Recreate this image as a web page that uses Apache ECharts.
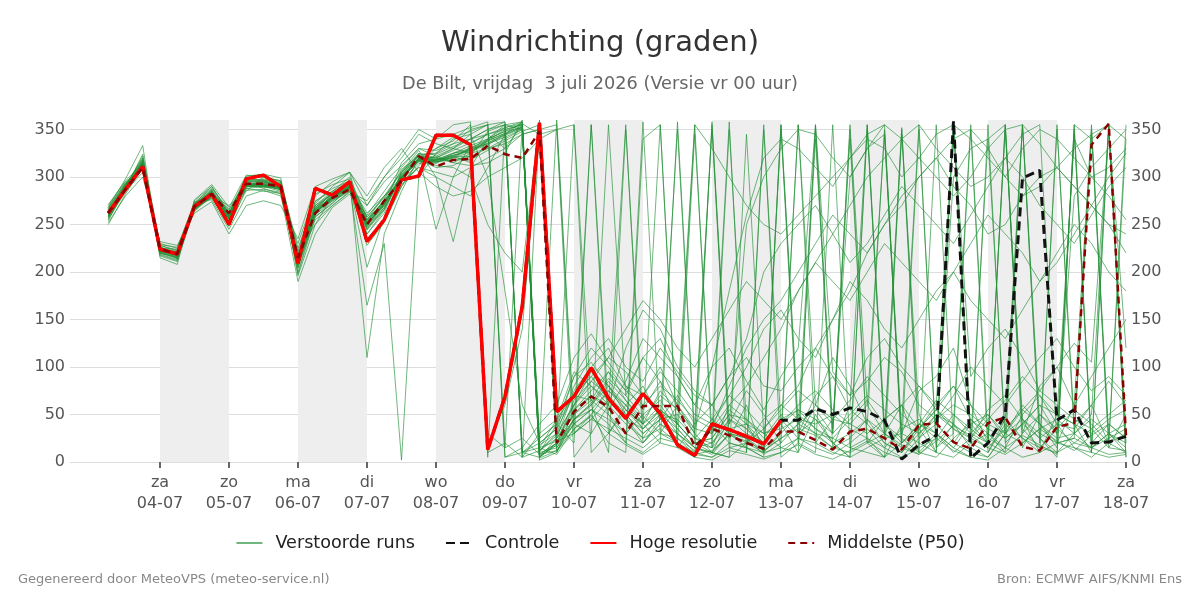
<!DOCTYPE html>
<html><head><meta charset="utf-8">
<script src="https://cdn.jsdelivr.net/npm/echarts@6/dist/echarts.min.js"></script>
<style>html,body{margin:0;padding:0;background:#fff}#chart{width:1200px;height:600px}</style>
</head><body><div id="chart"></div>
<script>
// hours relative to za 04-07 00:00
const hours = [-18,-12,-6,0,6,12,18,24,30,36,42,48,54,60,66,72,78,84,90,96,102,108,114,120,126,132,138,144,150,156,162,168,174,180,186,192,198,204,210,216,222,228,234,240,246,252,258,264,270,276,282,288,294,300,306,312,318,324,330,336];
const dayTicks = [0,24,48,72,96,120,144,168,192,216,240,264,288,312,336];
const dayNames = ['za','zo','ma','di','wo','do','vr','za','zo','ma','di','wo','do','vr','za'];
const dayDates = ['04-07','05-07','06-07','07-07','08-07','09-07','10-07','11-07','12-07','13-07','14-07','15-07','16-07','17-07','18-07'];
const shadedDays = [[0,24],[48,72],[96,120],[144,168],[192,216],[240,264],[288,312]];
const yTicks = [0,50,100,150,200,250,300,350];

const hogeResolutie = [262,287,311,224,219,269,282,250,298,302,290,209,288,281,295,232,255,297,301,344,344,334,13,69,164,357,53,69,99,67,46,72,51,18,7,40,34,27,19,44];
const controle = [262,287,311,224,219,269,282,250,298,302,290,209,288,281,295,232,255,297,301,344,344,334,13,69,164,357,53,69,99,67,46,72,51,18,7,40,34,27,19,44,44,56,50,57,53,44,3,18,28,359,4,20,50,299,307,44,55,20,21,27];
const middelste = [262,287,310,224,219,269,282,262,293,293,290,215,262,278,287,250,275,296,322,311,318,319,333,324,320,348,20,53,69,58,30,59,59,59,16,35,28,20,14,32,32,23,13,32,35,25,13,39,41,21,14,41,47,16,12,37,41,334,356,28];

const member01 = [258,292,318,220,215,275,290,262,298,296,290,205,270,282,295,240,265,305,325,320,330,325, 340,352,358,10,15,45,62,88,70,48,30,25,12,40,20,15,10, 30,355,20,45,40,60,30,352,25,50,40,15,5,30,60,40,20,25,350,30,15];
const member02 = [265,285,305,228,222,266,278,255,288,290,285,215,260,275,285,255,275,298,320,318,322,315, 20,60,140,350,25,75,100,120,80,55,85,40,20,15,60,45,25, 50,30,70,90,55,40,20,10,35,60,80,45,25,15,50,70,40,35,60,20,10];
const member03 = [255,288,322,226,214,272,284,265,295,294,292,198,258,272,290,165,230,2,300,325,335,340, 345,330,355,5,20,50,70,60,40,25,50,35,15,10,30,25,8, 20,40,55,30,340,20,45,60,35,10,355,30,50,25,40,60,30,345,20,40,25];
const member04 = [270,295,308,218,212,268,286,250,294,288,282,190,240,268,282,260,285,310,330,328,335,350, 355,358,5,12,30,60,85,110,95,70,100,60,35,30,55,40,20, 45,25,60,40,300,330,345,20,40,65,50,30,20,45,25,10,50,340,300,280,255];
const member05 = [260,289,315,224,220,264,280,270,285,300,295,225,275,285,300,255,280,295,310,305,300,310, 320,330,345,350,355,30,50,20,10,340,355,15,40,60,30,20,45, 60,80,120,150,180,220,250,280,300,320,340,350,330,300,280,290,310,330,345,355,340];
const member06 = [250,282,310,230,225,274,276,245,280,286,280,220,250,280,292,245,268,315,335,340,345,352, 358,5,10,25,40,20,355,30,60,80,45,350,20,10,5,345,30, 15,10,50,20,5,350,30,60,10,5,25,40,20,355,35,15,10,30,50,355,20];
const member07 = [262,291,320,222,218,271,283,260,296,298,294,210,272,290,305,235,255,290,318,312,310,300, 250,220,200,360,10,55,75,95,65,40,75,55,30,10,5,20,35, 60,45,30,25,15,10,5,20,40,30,10,25,55,70,45,30,20,15,10,5,8];
const member08 = [268,293,311,220,216,269,281,256,290,291,287,200,262,276,286,270,295,312,330,322,315,325, 330,340,350,15,8,35,50,75,60,35,55,30,10,35,80,120,150, 170,200,230,260,240,220,250,270,300,320,290,270,240,250,280,300,310,290,270,250,240];
const member09 = [259,288,313,225,219,270,282,258,292,295,289,215,266,279,290,248,270,302,316,316,320,330, 335,345,352,8,20,65,85,70,50,30,45,50,25,15,35,40,30, 35,45,40,50,35,25,15,35,45,30,15,40,50,30,20,35,45,30,15,25,35];
const member10 = [264,290,309,223,221,267,279,263,290,290,291,218,263,277,289,252,274,297,319,314,325,333, 340,348,356,18,30,80,110,130,100,85,120,95,70,60,90,110,80, 75,100,120,90,70,85,110,95,60,45,70,100,80,60,85,110,130,100,75,90,70];
const member11 = [261,287,310,227,216,268,285,252,293,293,286,208,255,270,285,240,262,305,322,318,318,318, 328,338,348,355,12,40,30,60,355,20,45,70,40,350,25,60,10, 355,40,350,15,60,355,25,345,50,10,355,20,340,30,355,40,15,350,10,355,5];
const member12 = [257,286,316,221,218,273,288,266,297,297,293,213,268,284,292,258,278,305,324,325,340,345, 300,180,60,20,35,90,105,80,55,40,60,35,15,10,45,30,20, 45,55,35,20,30,45,20,10,30,50,35,20,10,40,25,15,35,55,40,20,30];
const member13 = [266,291,314,223,220,270,283,257,291,289,290,220,268,282,293,262,280,300,318,310,312,322, 348,355,10,5,25,55,70,55,85,130,110,90,60,45,70,100,140, 160,130,110,150,190,170,140,120,150,180,200,170,150,130,160,190,220,250,230,200,180];
const member14 = [256,284,318,228,223,266,280,248,288,285,283,230,282,292,298,110,240,285,320,330,338,355, 10,20,5,30,45,70,90,65,45,20,40,25,8,5,20,15,5, 10,25,15,8,20,35,15,5,25,40,20,10,5,30,45,25,10,20,35,15,12];
const member15 = [263,292,312,219,213,271,287,261,300,300,296,196,250,270,284,275,300,320,345,335,330,340, 350,355,358,12,25,50,65,95,75,60,80,65,45,35,60,80,110, 140,180,210,240,270,300,320,340,355,330,310,290,300,320,345,355,20,60,90,120,150];
const member16 = [259,286,317,221,214,269,284,254,291,292,288,204,264,275,288,247,268,296,314,318,325,328, 335,342,350,2,10,45,55,40,20,10,25,20,5,358,15,10,355, 5,20,10,355,15,25,5,350,10,30,15,5,355,20,40,25,5,355,15,30,10];
const member17 = [267,294,307,225,224,265,281,259,289,296,289,216,260,283,291,253,276,308,322,320,315,312, 315,325,360,25,40,70,65,50,30,50,65,40,20,25,50,35,20, 40,60,75,55,40,30,45,60,80,55,35,25,45,65,90,70,50,40,60,85,60];
const member18 = [260,289,311,223,219,268,283,258,292,292,289,211,263,278,289,251,271,299,318,316,321,322, 330,335,345,350,15,40,55,45,30,20,40,30,15,20,40,250,300, 330,350,345,320,300,330,355,10,40,25,300,330,340,355,15,50,30,280,310,330,350];
const member19 = [254,288,324,229,226,272,290,262,301,303,299,215,274,288,296,228,252,290,312,330,342,348, 355,5,15,40,60,110,135,105,80,70,95,75,50,40,70,55,35, 55,75,60,45,65,90,70,50,35,55,80,60,40,30,55,75,60,45,35,50,65];
const member20 = [271,296,314,217,211,267,278,249,286,287,284,207,258,273,287,244,266,303,320,319,320,326, 338,346,10,15,22,30,45,65,45,25,35,20,8,12,28,22,12, 25,35,28,15,10,20,30,18,8,22,38,28,15,8,20,35,22,12,28,40,25];
const member21 = [262,288,313,224,218,270,284,256,293,290,288,212,262,279,290,250,272,296,325,245,300,335, 345,350,355,5,18,40,55,75,55,35,50,45,25,20,45,35,15, 30,50,35,25,45,65,40,20,35,55,40,25,15,35,55,40,25,30,45,30,20];
const member22 = [265,290,309,226,220,267,280,260,290,291,290,214,266,280,290,256,274,300,316,318,325,330, 340,348,352,8,20,45,60,80,60,40,55,40,355,330,300,270,250, 240,260,280,300,320,340,330,300,320,345,355,340,320,300,330,350,340,320,300,310,330];
const member23 = [268,298,333,215,208,276,292,268,302,300,296,222,280,295,305,270,300,325,350,340,355,358, 5,355,350,20,360,40,355,50,20,358,30,60,355,15,350,40,10, 350,20,340,30,355,60,345,20,350,15,40,355,25,350,45,10,355,30,345,20,340];
const member24 = [252,280,300,232,228,262,274,240,270,275,270,235,290,298,305,280,310,330,305,290,280,285, 300,310,320,340,350,5,30,355,70,110,85,60,30,355,40,75,50, 20,355,60,110,80,40,350,30,75,90,120,60,20,355,30,80,100,60,355,15,50];
const member25 = [263,289,316,222,217,270,283,259,292,294,289,212,262,280,291,205,258,292,310,300,290,280, 310,345,358,15,45,95,80,60,120,160,140,100,75,60,90,130,200, 230,250,270,240,210,230,260,290,270,250,230,260,290,320,300,270,250,230,260,290,310];
const member26 = [258,287,312,224,220,268,281,256,291,290,287,214,264,278,289,249,270,299,318,322,330,345, 355,15,25,8,12,30,45,35,25,15,30,20,10,5,15,20,10, 15,25,20,10,5,15,25,30,20,10,5,20,30,15,5,10,20,25,15,8,10];
const member27 = [261,290,314,223,219,269,282,257,293,292,288,213,265,279,290,251,272,300,320,317,323,328, 338,350,355,10,40,90,120,100,75,110,130,90,60,100,120,85,55, 90,120,355,95,70,110,130,100,80,60,355,90,120,140,110,75,100,125,105,350,120];
const member28 = [264,292,316,221,216,271,285,259,295,297,292,210,266,283,293,254,275,301,322,320,328,336, 345,352,356,345,350,355,10,30,55,40,20,358,25,45,30,15,5, 355,30,45,20,5,355,40,25,10,355,20,45,30,10,355,25,40,15,5,20,355];
const member29 = [260,288,312,225,221,268,281,257,291,293,289,216,263,277,288,249,271,298,317,315,321,331, 338,346,354,12,28,60,80,65,45,35,55,40,20,25,50,45,30, 40,55,45,30,50,70,55,40,30,45,60,50,35,25,40,60,50,40,30,45,55];
const member30 = [266,293,310,220,215,270,284,258,293,291,287,209,264,281,291,253,273,299,319,318,323,327, 334,344,351,6,18,45,60,85,65,45,70,55,35,100,180,260,320, 340,330,310,290,320,345,355,340,320,300,280,300,330,350,355,335,310,290,270,300,325];
const member31 = [259,290,319,224,218,272,286,261,296,295,291,207,267,283,294,246,266,303,323,324,332,340, 350,358,5,355,30,355,60,10,350,40,355,20,345,30,358,10,350, 40,10,355,35,350,20,5,40,355,15,30,350,10,45,355,20,350,40,10,355,30];
const member32 = [263,290,311,223,219,269,282,256,292,291,290,213,263,278,289,250,273,298,318,316,318,322, 30,15,355,5,20,60,95,80,50,30,45,30,15,8,30,25,12, 25,40,30,15,25,45,30,15,8,25,50,35,20,10,30,50,35,20,15,30,40];
const member33 = [258,286,315,226,221,268,283,262,294,296,291,217,270,285,296,258,280,306,328,300,232,310, 340,355,10,20,35,70,90,110,140,170,150,120,100,130,160,190,170, 150,180,210,190,170,200,230,210,190,170,200,230,260,240,220,190,210,240,270,250,220];
const member34 = [262,289,313,222,218,270,283,259,292,293,289,212,264,279,290,251,272,300,319,317,322,329, 336,345,353,4,12,35,48,30,18,8,20,15,5,2,12,8,3, 10,18,8,3,12,22,10,4,15,25,12,5,2,15,28,18,8,355,340,355,5];

const members = [member01,member02,member03,member04,member05,member06,member07,member08,member09,member10,member11,member12,member13,member14,member15,member16,member17,member18,member19,member20,member21,member22,member23,member24,member25,member26,member27,member28,member29,member30,member31,member32,member33,member34];

const FONT = 'DejaVu Sans';
const GREEN = 'rgba(35,145,55,0.65)';
const pairs = vals => vals.map((v, i) => [hours[i], v]);

const series = [];
series.push({
  type: 'line', name: 'bands', data: hours.map(h => [h, null]), silent: true, z: 1, symbol: 'none',
  markArea: { silent: true, itemStyle: { color: '#eeeeee' },
    data: shadedDays.map(d => [{ xAxis: d[0] }, { xAxis: d[1] }]) }
});
members.forEach(m => series.push({
  type: 'line', name: 'Verstoorde runs', data: pairs(m), symbol: 'none', silent: true, z: 2,
  lineStyle: { width: 1, color: GREEN }, itemStyle: { color: GREEN }
}));
series.push({
  type: 'line', name: 'Controle', data: pairs(controle), symbol: 'none', z: 3,
  lineStyle: { width: 3, color: '#111111', type: [9, 5] }, itemStyle: { color: '#111111' }
});
series.push({
  type: 'line', name: 'Hoge resolutie', data: pairs(hogeResolutie), symbol: 'none', z: 4,
  lineStyle: { width: 3.5, color: '#ff0000' }, itemStyle: { color: '#ff0000' }
});
series.push({
  type: 'line', name: 'Middelste (P50)', data: pairs(middelste), symbol: 'none', z: 5,
  lineStyle: { width: 2.5, color: '#8b0000', type: [7, 5] }, itemStyle: { color: '#8b0000' }
});

const yAxisBase = {
  type: 'value', min: 0, max: 360, interval: 50,
  axisLine: { show: false }, axisTick: { show: false, customValues: yTicks },
  axisLabel: { customValues: yTicks, color: '#555', fontSize: 16, fontFamily: FONT, margin: 5 }
};

const chart = echarts.init(document.getElementById('chart'), null, { renderer: 'canvas' });
chart.setOption({
  animation: false,
  backgroundColor: '#ffffff',
  title: {
    text: 'Windrichting (graden)',
    subtext: 'De Bilt, vrijdag  3 juli 2026 (Versie vr 00 uur)',
    left: 'center', top: 24, itemGap: 17,
    textStyle: { fontSize: 29, fontWeight: 'normal', color: '#333', fontFamily: FONT },
    subtextStyle: { fontSize: 17.7, color: '#666', fontFamily: FONT }
  },
  legend: {
    data: ['Verstoorde runs', 'Controle', 'Hoge resolutie', 'Middelste (P50)'],
    top: 529, left: 'center', itemWidth: 26, itemHeight: 14, itemGap: 30,
    itemStyle: { opacity: 0 },
    textStyle: { fontSize: 17.6, color: '#222', fontFamily: FONT, padding: [0, 0, 0, 8] }
  },
  grid: { left: 70, right: 74, top: 120, bottom: 138 },
  xAxis: {
    type: 'value', min: -31.3, max: 336,
    axisLine: { show: false }, splitLine: { show: false },
    axisTick: { show: true, customValues: dayTicks, length: 6, lineStyle: { color: '#666', width: 2 } },
    axisLabel: {
      customValues: dayTicks, color: '#555', fontSize: 16, lineHeight: 21, margin: 10, fontFamily: FONT,
      formatter: v => { const i = Math.round(v / 24); return dayNames[i] + '\n' + dayDates[i]; }
    }
  },
  yAxis: [
    Object.assign({}, yAxisBase, { position: 'left', splitLine: { show: true, lineStyle: { color: '#dddddd' } } }),
    Object.assign({}, yAxisBase, { position: 'right', splitLine: { show: false } })
  ],
  graphic: [
    { type: 'text', left: 18, top: 573, style: { text: 'Gegenereerd door MeteoVPS (meteo-service.nl)', fill: '#888', font: '13px "DejaVu Sans"' } },
    { type: 'text', right: 18, top: 573, style: { text: 'Bron: ECMWF AIFS/KNMI Ens', fill: '#888', font: '13px "DejaVu Sans"' } }
  ],
  series: series
});
</script>
</body></html>
